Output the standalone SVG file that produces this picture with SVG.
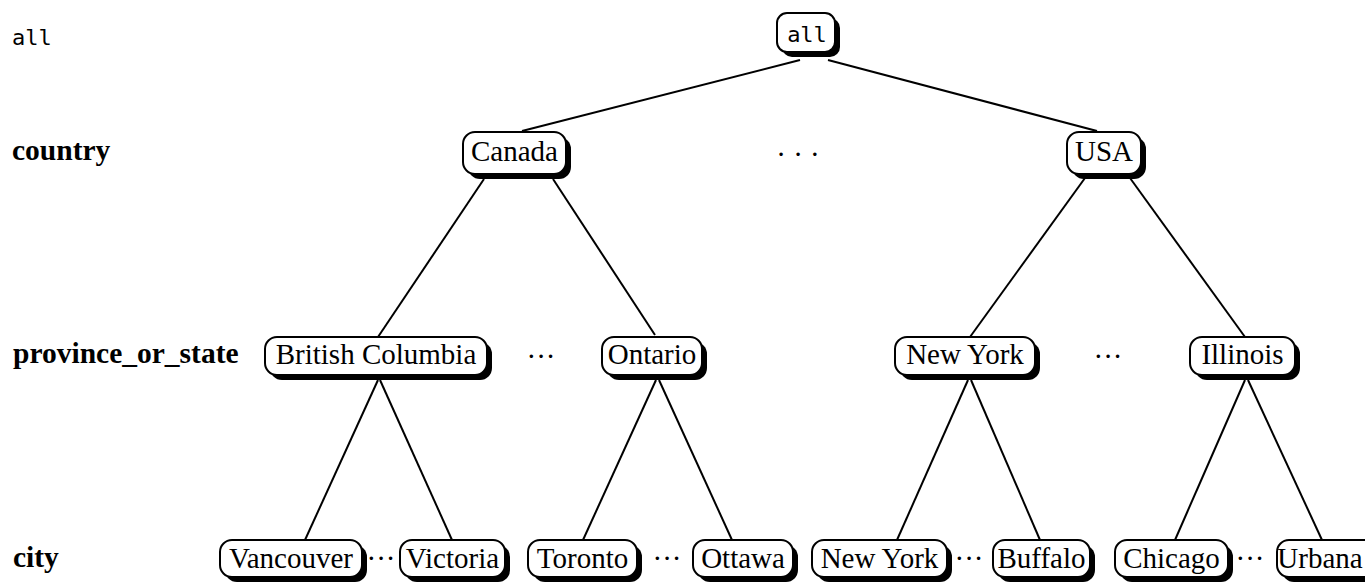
<svg xmlns="http://www.w3.org/2000/svg" width="1365" height="585" viewBox="0 0 1365 585">
<style>
.sh{fill:#000}
.bx{fill:#fff;stroke:#000;stroke-width:2}
.t{font-family:"Liberation Serif","Times New Roman",serif;font-size:29px;fill:#000;text-anchor:middle}
.mono{font-family:"DejaVu Sans Mono","Liberation Mono",monospace;font-size:22px;fill:#000}
.lvl{font-family:"Liberation Serif","Times New Roman",serif;font-size:29.5px;font-weight:bold;fill:#000}
.dots{font-family:"Liberation Serif","Times New Roman",serif;font-size:29px;fill:#000;text-anchor:middle}
.c line{stroke:#000;stroke-width:2}
</style>
<rect width="1365" height="585" fill="#fff"/>
<g id="levels">
<text class="mono" x="12" y="45">all</text>
<text class="lvl" x="12" y="160">country</text>
<text class="lvl" x="13" y="363">province_or_state</text>
<text class="lvl" x="13" y="567">city</text>
</g>
<g class="c" id="connectors">
<line x1="800" y1="60" x2="522" y2="131"/>
<line x1="828" y1="60" x2="1097" y2="131"/>
<line x1="484" y1="179" x2="378" y2="337"/>
<line x1="553" y1="179" x2="655" y2="335"/>
<line x1="1085" y1="178" x2="970" y2="337"/>
<line x1="1130" y1="178" x2="1245" y2="337"/>
<line x1="378" y1="380" x2="305" y2="540"/>
<line x1="380" y1="380" x2="452" y2="540"/>
<line x1="656" y1="380" x2="583" y2="540"/>
<line x1="659" y1="380" x2="732" y2="540"/>
<line x1="968" y1="380" x2="897" y2="540"/>
<line x1="971" y1="380" x2="1040" y2="540"/>
<line x1="1245" y1="380" x2="1175" y2="540"/>
<line x1="1248" y1="380" x2="1322" y2="540"/>
</g>
<g id="n-all"><rect class="sh" x="782" y="18" width="58" height="39" rx="10"/><rect class="bx" x="777" y="13" width="58" height="39" rx="10"/><text class="mono" x="807" y="42" text-anchor="middle" font-size="21">all</text></g>
<g id="n-canada"><rect class="sh" x="468" y="137" width="103" height="42" rx="12"/><rect class="bx" x="463" y="132" width="103" height="42" rx="12"/><text class="t" x="514.5" y="161">Canada</text></g>
<g id="n-usa"><rect class="sh" x="1072" y="137" width="74" height="42" rx="12"/><rect class="bx" x="1067" y="132" width="74" height="42" rx="12"/><text class="t" x="1104" y="161">USA</text></g>
<g id="n-bc"><rect class="sh" x="270" y="342" width="222" height="38" rx="12"/><rect class="bx" x="265" y="337" width="222" height="38" rx="12"/><text class="t" x="376" y="364">British Columbia</text></g>
<g id="n-ontario"><rect class="sh" x="607" y="342" width="100" height="38" rx="12"/><rect class="bx" x="602" y="337" width="100" height="38" rx="12"/><text class="t" x="652" y="364">Ontario</text></g>
<g id="n-newyork-state"><rect class="sh" x="900" y="342" width="140" height="38" rx="12"/><rect class="bx" x="895" y="337" width="140" height="38" rx="12"/><text class="t" x="965" y="364">New York</text></g>
<g id="n-illinois"><rect class="sh" x="1195" y="342" width="105" height="38" rx="12"/><rect class="bx" x="1190" y="337" width="105" height="38" rx="12"/><text class="t" x="1242.5" y="364">Illinois</text></g>
<g id="n-vancouver"><rect class="sh" x="225" y="545" width="142" height="37" rx="12"/><rect class="bx" x="220" y="540" width="142" height="37" rx="12"/><text class="t" x="291" y="568">Vancouver</text></g>
<g id="n-victoria"><rect class="sh" x="405" y="545" width="105" height="37" rx="12"/><rect class="bx" x="400" y="540" width="105" height="37" rx="12"/><text class="t" x="452.5" y="568">Victoria</text></g>
<g id="n-toronto"><rect class="sh" x="533" y="545" width="109" height="37" rx="12"/><rect class="bx" x="528" y="540" width="109" height="37" rx="12"/><text class="t" x="582.5" y="568">Toronto</text></g>
<g id="n-ottawa"><rect class="sh" x="698" y="545" width="100" height="37" rx="12"/><rect class="bx" x="693" y="540" width="100" height="37" rx="12"/><text class="t" x="743" y="568">Ottawa</text></g>
<g id="n-newyork-city"><rect class="sh" x="817" y="545" width="135" height="37" rx="12"/><rect class="bx" x="812" y="540" width="135" height="37" rx="12"/><text class="t" x="879.5" y="568">New York</text></g>
<g id="n-buffalo"><rect class="sh" x="998" y="545" width="97" height="37" rx="12"/><rect class="bx" x="993" y="540" width="97" height="37" rx="12"/><text class="t" x="1041.5" y="568">Buffalo</text></g>
<g id="n-chicago"><rect class="sh" x="1120" y="545" width="113" height="37" rx="12"/><rect class="bx" x="1115" y="540" width="113" height="37" rx="12"/><text class="t" x="1171.5" y="568">Chicago</text></g>
<g id="n-urbana"><rect class="sh" x="1282" y="545" width="100" height="37" rx="12"/><rect class="bx" x="1277" y="540" width="100" height="37" rx="12"/><text class="t" x="1320" y="568">Urbana</text></g>
<g id="ellipses">
<text class="dots" x="798" y="164">· · ·</text>
<text class="dots" x="541" y="366">···</text>
<text class="dots" x="1108" y="366">···</text>
<text class="dots" x="381" y="568">···</text>
<text class="dots" x="667" y="568">···</text>
<text class="dots" x="969" y="568">···</text>
<text class="dots" x="1250" y="568">···</text>
</g>
</svg>
